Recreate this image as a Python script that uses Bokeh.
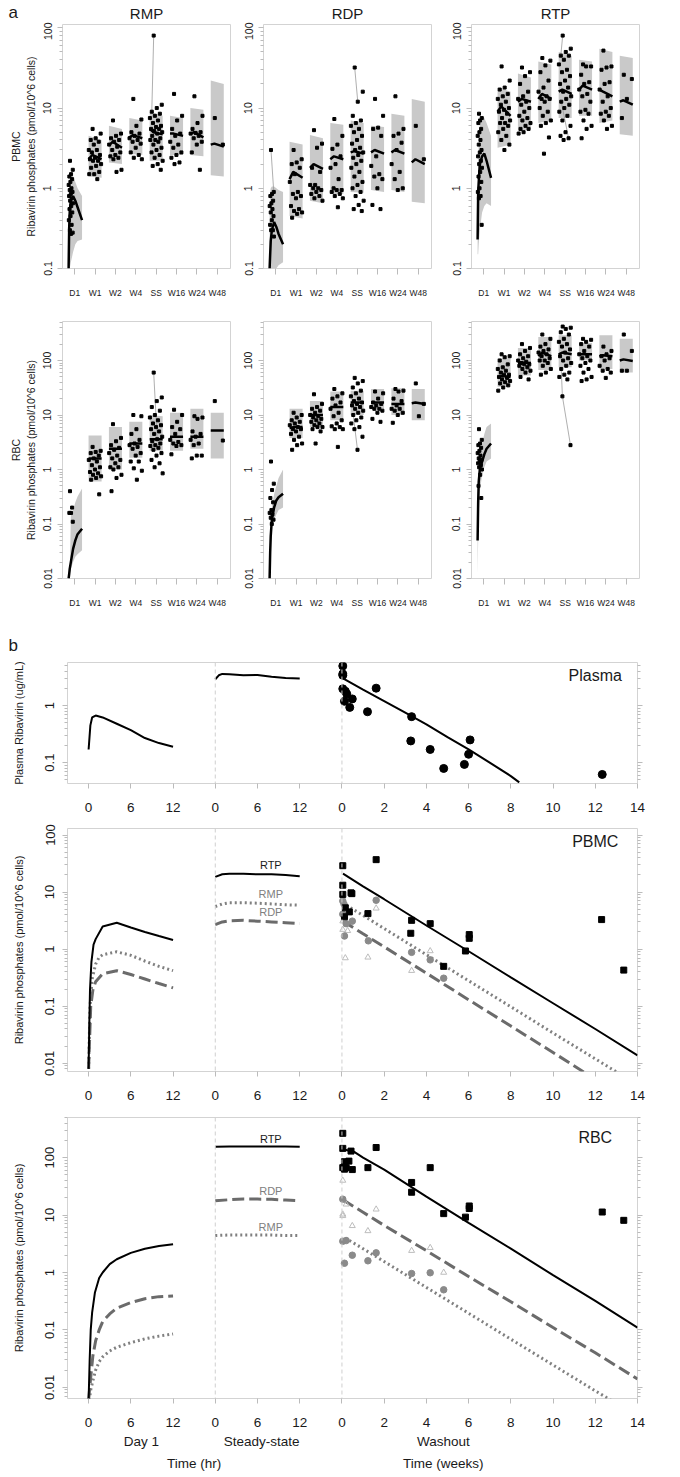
import math
from bokeh.plotting import figure
from bokeh.models import Range1d, FixedTicker, LinearAxis, LogAxis, Label, Span
from bokeh.layouts import column, row
from bokeh.embed import file_html
from bokeh.resources import INLINE
from bokeh.core.properties import value

FONT = "Liberation Sans"
TXT = "#1a1a1a"
BAND = "#c9c9c9"
FRAME = "#d3d3d3"
TICK = "#bbbbbb"

GROUPS = ["D1", "W1", "W2", "W4", "SS", "W16", "W24", "W48"]
SPECIES = ["RMP", "RDP", "RTP"]
D1_HOURS = [0, 0.5, 1, 2, 4, 6, 8, 12]

# ---------------- panel a : PBMC ----------------
RMP_PBMC_D1_MED = [0.1, 0.32, 0.5, 0.7, 0.8, 0.7, 0.58, 0.4]
RMP_PBMC_D1_HI = [0.3, 1.0, 1.4, 1.5, 1.4, 1.2, 1.0, 0.8]
RMP_PBMC_D1_LO = [0.1, 0.1, 0.1, 0.12, 0.16, 0.2, 0.22, 0.23]
RMP_PBMC_TOP = [[4.5, 4.0], [6.0, 5.5], [7.5, 7.0], [9.0, 8.0], [8.0, 7.5], [10, 9.5], [22, 20]]
RMP_PBMC_BOT = [[1.4, 1.35], [2.1, 2.0], [2.7, 2.6], [2.2, 2.2], [2.6, 2.6], [2.6, 2.5], [1.45, 1.4]]
RMP_PBMC_MED = [[2.3, 2.6, 2.3], [3.4, 3.8, 3.2], [4.3, 4.6, 4.2], [5.5, 5.0, 4.7], [4.8, 4.8, 4.5], [4.8, 5.0, 4.3], [3.5, 3.6, 3.3]]
RMP_PBMC_OBS = [
    [2.2, 1.7, 1.5, 1.4, 1.3, 1.2, 1.1, 1.0, 0.95, 0.9, 0.85, 0.8, 0.75, 0.7, 0.65, 0.6, 0.55, 0.5, 0.45, 0.4, 0.35, 0.3, 0.28, 0.27],
    [5.5, 4.8, 4.2, 4.0, 3.8, 3.5, 3.0, 3.0, 2.8, 2.6, 2.4, 2.3, 2.2, 2.2, 2.0, 1.9, 1.8, 1.6, 1.5, 1.5, 1.3],
    [7.0, 4.8, 4.5, 4.2, 4.0, 3.8, 3.5, 3.3, 3.0, 2.8, 2.6, 2.5, 2.4, 2.3, 1.7, 1.6],
    [13, 7.2, 6.0, 5.0, 4.8, 4.5, 4.2, 4.0, 3.8, 3.6, 3.2, 2.8, 2.6, 2.4, 2.3],
    [80, 11, 10, 9, 8.5, 8, 7.5, 7, 6.5, 6, 5.8, 5.5, 5.5, 5.2, 5, 4.8, 4.5, 4.2, 4, 4, 3.8, 3.5, 3.2, 3, 2.8, 2.6, 2.4, 2.2, 2.0, 1.9, 1.7],
    [15, 8, 7, 5.5, 4.8, 4.5, 3.8, 3.5, 3.2, 2.8, 2.6, 2.4, 2.1, 2.0],
    [14, 8, 6.5, 5.5, 5, 4.9, 4.8, 4.5, 4.2, 3.8, 3.5, 2.8, 1.7],
    [7.5, 3.5],
]
RMP_PBMC_LINKS = [(4, 80, 9)]

RDP_PBMC_D1_MED = [0.1, 0.15, 0.22, 0.3, 0.38, 0.33, 0.27, 0.2]
RDP_PBMC_D1_HI = [0.5, 0.9, 1.0, 1.05, 1.05, 1.0, 0.95, 0.9]
RDP_PBMC_D1_LO = [0.1, 0.1, 0.1, 0.1, 0.1, 0.1, 0.11, 0.12]
RDP_PBMC_TOP = [[3.8, 3.5], [4.6, 4.2], [6.5, 6.2], [7.0, 6.5], [6.0, 5.8], [8.5, 8.0], [13, 12]]
RDP_PBMC_BOT = [[0.45, 0.42], [0.7, 0.65], [0.85, 0.85], [0.9, 0.88], [0.95, 0.9], [0.95, 0.9], [0.68, 0.65]]
RDP_PBMC_MED = [[1.3, 1.6, 1.35], [1.8, 2.0, 1.75], [2.3, 2.5, 2.3], [2.8, 2.9, 2.7], [2.8, 3.0, 2.7], [2.8, 3.0, 2.7], [2.1, 2.3, 2.0]]
RDP_PBMC_OBS = [
    [3.0, 0.9, 0.85, 0.8, 0.7, 0.65, 0.6, 0.55, 0.5, 0.45, 0.4, 0.35, 0.3, 0.3, 0.25],
    [3.0, 2.3, 2.1, 2.0, 1.8, 1.5, 1.2, 0.9, 0.85, 0.8, 0.75, 0.6, 0.55, 0.52, 0.5, 0.48, 0.43],
    [5.3, 3.6, 3.2, 1.8, 1.6, 1.1, 1.1, 1.0, 1.0, 0.95, 0.9, 0.85, 0.8, 0.75, 0.7],
    [7.3, 4.5, 3.5, 3.1, 2.5, 2.0, 1.8, 1.3, 1.0, 0.95, 0.95, 0.9, 0.85, 0.8, 0.75, 0.58],
    [32, 16, 12, 8, 7, 6.5, 6, 5.5, 5, 4.5, 4, 3.6, 3.2, 3, 2.8, 2.6, 2.4, 2.2, 2, 1.8, 1.6, 1.4, 1.2, 1.1, 1, 0.9, 0.8, 0.7, 0.62, 0.55, 0.52],
    [13, 8, 5.7, 5.5, 4.5, 2.5, 1.9, 1.5, 1.4, 1.3, 1.0, 0.62, 0.55],
    [14, 5.5, 4.8, 4.5, 3.7, 3.0, 2.0, 1.6, 1.3, 1.0, 0.95],
    [6.0, 2.3],
]
RDP_PBMC_LINKS = [(0, 3.0, 0.9), (4, 32, 12)]

RTP_PBMC_D1_MED = [0.23, 0.9, 1.2, 2.0, 2.5, 2.7, 2.2, 1.35]
RTP_PBMC_D1_HI = [0.3, 2.0, 4.0, 6.0, 8.0, 7.5, 6.5, 4.5]
RTP_PBMC_D1_LO = [0.15, 0.15, 0.2, 0.3, 0.5, 0.6, 0.65, 0.6]
RTP_PBMC_TOP = [[18, 16], [27, 24], [38, 35], [50, 45], [40, 38], [55, 50], [45, 42]]
RTP_PBMC_BOT = [[3.2, 3.5], [5.0, 5.5], [6.5, 7.0], [7.5, 7.5], [8, 8], [6.5, 7.0], [4.7, 4.5]]
RTP_PBMC_MED = [[9, 10.5, 8], [12, 13, 12], [13, 15, 13], [16, 17, 15], [17, 19, 17], [17, 16, 14], [12, 12.5, 11]]
RTP_PBMC_OBS = [
    [8.5, 7.5, 7, 6.5, 5.5, 5, 4.5, 4, 3.5, 3, 2.8, 2.5, 2.2, 2, 1.8, 1.6, 1.4, 1.2, 1, 0.9, 0.8, 0.75, 0.35],
    [33, 22, 18, 17, 15, 14, 13, 12, 11, 10, 9.5, 9, 8.5, 7.5, 7, 6.5, 6.5, 6, 5.5, 5, 4.5, 4, 3.5, 3.0],
    [32, 28, 25, 20, 16, 14, 13, 12, 11, 10, 9, 8, 7.5, 7, 6.5, 6, 5.5, 5.5, 5, 4.8],
    [42, 39, 34, 28, 22, 18, 16, 14, 13, 13, 12, 10, 9, 8, 7, 6.5, 6, 4.3, 2.7],
    [80, 55, 50, 45, 45, 40, 35, 30, 28, 25, 22, 20, 18, 16, 14, 13, 12, 11, 10, 9, 8, 7, 6, 5, 4.5, 4.2, 4],
    [35, 33, 33, 26, 21, 20, 17, 15, 14, 12, 9.5, 9, 8.5, 7, 6, 5.5, 4.2],
    [52, 33, 32, 30, 21, 20, 17, 14, 12, 10, 9, 8.5, 8, 7, 6, 5.5],
    [26, 23, 13, 7.5],
]
RTP_PBMC_LINKS = [(4, 80, 45), (4, 4.2, 12)]

# ---------------- panel a : RBC ----------------
RMP_RBC_D1_MED = [0.01, 0.012, 0.015, 0.02, 0.035, 0.05, 0.065, 0.082]
RMP_RBC_D1_HI = [0.01, 0.01, 0.012, 0.14, 0.18, 0.25, 0.32, 0.45]
RMP_RBC_D1_LO = [0.01, 0.01, 0.012, 0.015, 0.02, 0.025, 0.028, 0.033]
RMP_RBC_TOP = [[4.2, 4.2], [6.0, 6.0], [7.5, 7.5], [10, 9.5], [11, 11], [13, 13], [11, 11]]
RMP_RBC_BOT = [[0.6, 0.6], [1.0, 1.0], [1.65, 1.65], [2.2, 2.2], [2.2, 2.2], [2.4, 2.4], [1.6, 1.6]]
RMP_RBC_MED = [[1.6, 1.6, 1.6], [2.4, 2.4, 2.4], [3.0, 3.0, 3.0], [3.6, 3.6, 3.6], [4.0, 4.0, 4.0], [4.0, 4.0, 4.0], [5.2, 5.2, 5.2]]
RMP_RBC_OBS = [
    [0.4, 0.11, 0.16, 0.16, 0.2],
    [2.6, 2.2, 2.1, 2.0, 1.8, 1.6, 1.5, 1.4, 1.2, 1.1, 1.0, 0.9, 0.85, 0.8, 0.75, 0.7, 0.65, 0.35],
    [6.8, 3.8, 3.3, 2.8, 2.5, 2.3, 2.0, 1.8, 1.6, 1.5, 1.3, 1.1, 1.1, 1.0, 0.8, 0.7, 0.4],
    [10, 9.5, 5.5, 4.5, 3.5, 3.0, 2.8, 2.6, 2.4, 2.0, 1.8, 1.4, 1.4, 1.05, 0.95, 0.65],
    [60, 21, 18, 14, 12, 10, 9, 8, 7, 6.5, 6, 5.5, 5, 4.5, 4, 3.6, 3.3, 3, 2.8, 2.7, 2.5, 2.3, 2.0, 1.8, 1.5, 1.3, 1.1, 0.85],
    [12.5, 10, 7.5, 6, 5.5, 4.5, 3.5, 3.2, 3.0, 2.8, 2.7, 1.9],
    [9.5, 9, 8.5, 5, 4.5, 4, 3.5, 3, 2.8, 1.8, 1.8, 1.6],
    [18, 3.4],
]
RMP_RBC_LINKS = [(4, 60, 3.6)]

RDP_RBC_D1_MED = [0.01, 0.03, 0.06, 0.12, 0.2, 0.27, 0.31, 0.36]
RDP_RBC_D1_HI = [0.01, 0.03, 0.06, 0.2, 0.35, 0.5, 0.7, 1.0]
RDP_RBC_D1_LO = [0.01, 0.03, 0.06, 0.1, 0.12, 0.15, 0.18, 0.2]
RDP_RBC_TOP = [[13, 13], [18, 18], [27, 27], [28, 28], [30, 30], [31, 31], [30, 30]]
RDP_RBC_BOT = [[3.8, 3.8], [6, 6], [8, 8], [10, 10], [13, 13], [10, 10], [8, 8]]
RDP_RBC_MED = [[5.8, 6.0, 6.0], [10, 10, 10], [14, 14, 14], [17, 17, 17], [17, 17, 17], [16, 16, 16], [16.5, 17, 16]]
RDP_RBC_OBS = [
    [1.4, 0.55, 0.42, 0.3, 0.25, 0.18, 0.16, 0.15, 0.13, 0.12, 0.1],
    [11, 10, 9, 8, 7.5, 7, 6.5, 6, 5.5, 5.5, 5, 4.5, 4, 3.5, 3, 2.8, 2.3],
    [24, 16, 14, 13, 12, 11, 10, 9.5, 9, 8.5, 8, 7.5, 7, 6.5, 6, 6, 5.5, 5, 3.0],
    [30, 25, 22, 20, 17, 15, 13, 11, 9.5, 8, 7, 6.2, 6, 5.5, 5.5, 2.6],
    [48, 42, 38, 32, 28, 25, 22, 20, 18, 17, 16, 15, 14, 13, 12, 11, 10, 9, 8, 7, 6, 5.5, 4, 2.3],
    [27, 25, 20, 17, 16, 15, 14, 13, 13, 12, 11, 8.5, 7.5],
    [30, 28, 27, 20, 18, 15, 13, 13, 12, 11, 10, 7.2],
    [38, 16, 9.5],
]
RDP_RBC_LINKS = [(4, 2.3, 10)]

RTP_RBC_D1_MED = [0.05, 0.25, 0.6, 1.0, 1.4, 1.9, 2.4, 3.0]
RTP_RBC_D1_HI = [0.1, 0.5, 1.2, 2.0, 3.0, 4.5, 6.0, 7.0]
RTP_RBC_D1_LO = [0.012, 0.05, 0.15, 0.4, 0.8, 1.1, 1.4, 1.6]
RTP_RBC_TOP = [[110, 110], [170, 170], [270, 270], [290, 290], [210, 210], [290, 290], [250, 250]]
RTP_RBC_BOT = [[33, 33], [53, 53], [67, 67], [75, 75], [100, 100], [70, 70], [60, 60]]
RTP_RBC_MED = [[48, 52, 50], [90, 92, 90], [120, 140, 120], [130, 140, 130], [130, 130, 130], [120, 125, 120], [100, 105, 98]]
RTP_RBC_OBS = [
    [5.5, 3.5, 3, 2.8, 2.5, 2.2, 2.0, 1.8, 1.6, 1.5, 1.4, 1.3, 1.2, 1.1, 1.0, 0.8, 0.5, 0.3],
    [130, 120, 115, 100, 85, 75, 70, 65, 60, 55, 55, 50, 48, 45, 42, 40, 38, 35, 32, 28],
    [200, 170, 150, 130, 120, 110, 100, 95, 90, 85, 85, 80, 75, 70, 65, 60, 50, 45],
    [300, 250, 200, 180, 160, 150, 140, 130, 120, 110, 100, 100, 90, 80, 70, 60, 55],
    [420, 400, 380, 330, 300, 250, 220, 200, 180, 160, 140, 120, 110, 100, 90, 80, 70, 60, 55, 50, 45, 22, 2.8],
    [250, 240, 220, 200, 180, 150, 130, 120, 110, 100, 90, 80, 70, 60, 50, 45, 42],
    [180, 150, 130, 120, 110, 100, 80, 70, 65, 60, 48],
    [300, 150, 65, 65],
]
RTP_RBC_LINKS = [(4, 2.8, 22), (4, 22, 70)]

# ---------------- panel b : plasma ----------------
PLASMA_D1_H = [0, 0.25, 0.5, 1, 2, 4, 6, 8, 10, 12]
PLASMA_D1 = [0.17, 0.45, 0.62, 0.67, 0.62, 0.48, 0.37, 0.27, 0.22, 0.19]
PLASMA_SS_H = [0, 0.5, 1, 2, 4, 6, 8, 10, 12]
PLASMA_SS = [2.9, 3.4, 3.6, 3.55, 3.4, 3.45, 3.2, 3.05, 3.0]
PLASMA_WO_W = [0.05, 1, 2, 3, 4, 5, 6, 7, 8, 8.4]
PLASMA_WO = [3.0, 1.9, 1.2, 0.75, 0.47, 0.28, 0.17, 0.1, 0.058, 0.045]
PLASMA_OBS_W = [0.04, 0.04, 0.04, 0.04, 0.16, 0.23, 0.12, 0.49, 0.37, 1.21, 1.62, 3.3, 3.26, 4.18, 4.82, 6.07, 6.0, 5.8, 12.33]
PLASMA_OBS = [4.95, 3.6, 3.4, 1.97, 1.79, 1.6, 1.19, 1.31, 0.93, 0.78, 2.02, 0.64, 0.24, 0.17, 0.079, 0.25, 0.14, 0.093, 0.062]

# ---------------- panel b : PBMC ----------------
PBMC_RTP_D1_H = [0, 0.1, 0.2, 0.4, 0.7, 1, 2, 4, 6, 8, 10, 12]
PBMC_RTP_D1 = [0.008, 0.05, 0.2, 0.6, 1.2, 1.5, 2.5, 2.9, 2.4, 2.0, 1.7, 1.45]
PBMC_RMP_D1_H = [0, 0.2, 0.5, 1, 1.5, 2, 4, 6, 8, 10, 12]
PBMC_RMP_D1 = [0.008, 0.1, 0.3, 0.55, 0.72, 0.8, 0.9, 0.78, 0.62, 0.5, 0.42]
PBMC_RDP_D1_H = [0, 0.3, 0.6, 1, 2, 4, 6, 8, 10, 12]
PBMC_RDP_D1 = [0.008, 0.1, 0.19, 0.27, 0.37, 0.42, 0.36, 0.3, 0.25, 0.21]
PBMC_SS_H = [0, 1, 2, 4, 6, 8, 10, 12]
PBMC_RTP_SS = [18.5, 20.5, 21, 21, 20.5, 20.5, 20, 19]
PBMC_RMP_SS = [5.6, 6.2, 6.5, 6.5, 6.4, 6.2, 6.0, 5.9]
PBMC_RDP_SS = [2.7, 3.0, 3.15, 3.2, 3.1, 3.0, 2.9, 2.8]
PBMC_RTP_WO_W = [0.05, 1, 2, 4, 6, 8, 10, 12, 14]
PBMC_RTP_WO = [21, 12.6, 7.5, 2.6, 0.92, 0.32, 0.113, 0.04, 0.0138]
PBMC_RMP_WO_W = [0.2, 1, 2, 4, 6, 8, 10, 12, 13]
PBMC_RMP_WO = [5.9, 3.9, 2.3, 0.8, 0.28, 0.098, 0.034, 0.012, 0.0071]
PBMC_RDP_WO_W = [0.05, 1, 2, 4, 6, 8, 10, 11.5, 12]
PBMC_RDP_WO = [3.1, 1.86, 1.1, 0.38, 0.13, 0.045, 0.0155, 0.0069, 0.0054]
PBMC_RTP_OBS_W = [0.04, 1.62, 0.04, 0.04, 0.16, 0.35, 0.43, 0.47, 0.12, 1.23, 3.3, 3.26, 4.18, 4.82, 5.85, 6.03, 6.03, 12.3, 13.35]
PBMC_RTP_OBS = [29, 37, 13.2, 9.1, 5.3, 4.5, 9.7, 9.4, 3.7, 4.2, 3.2, 1.9, 2.8, 0.5, 0.93, 1.55, 1.8, 3.3, 0.43]
PBMC_RMP_OBS_W = [0.04, 0.04, 0.1, 0.2, 0.49, 1.62, 1.25, 3.3, 4.18, 4.82, 0.12]
PBMC_RMP_OBS = [7.0, 4.1, 6.1, 2.8, 3.1, 7.2, 1.4, 0.88, 0.65, 0.31, 1.7]
PBMC_RDP_OBS_W = [0.16, 1.23, 1.62, 3.3, 4.18, 0.04, 0.04, 0.27]
PBMC_RDP_OBS = [0.7, 0.72, 5.2, 0.42, 0.93, 2.2, 3.1, 2.1]

# ---------------- panel b : RBC ----------------
RBC_RTP_D1_H = [0, 0.15, 0.3, 0.5, 0.9, 1.5, 2, 3, 4, 6, 8, 10, 12]
RBC_RTP_D1 = [0.006, 0.03, 0.1, 0.2, 0.45, 0.8, 1.0, 1.4, 1.7, 2.2, 2.6, 2.9, 3.1]
RBC_RDP_D1_H = [0, 0.3, 0.6, 1, 1.5, 2, 3, 4, 6, 8, 10, 12]
RBC_RDP_D1 = [0.006, 0.015, 0.035, 0.065, 0.1, 0.14, 0.19, 0.24, 0.3, 0.35, 0.38, 0.39]
RBC_RMP_D1_H = [0.1, 0.3, 0.6, 1, 1.5, 2, 3, 4, 6, 8, 10, 12]
RBC_RMP_D1 = [0.006, 0.009, 0.013, 0.02, 0.028, 0.034, 0.043, 0.05, 0.06, 0.07, 0.078, 0.085]
RBC_SS_H = [0, 2, 4, 6, 8, 10, 12]
RBC_RTP_SS = [155, 156, 157, 157, 156, 156, 155]
RBC_RDP_SS = [17.8, 18.5, 19, 19, 18.8, 18.3, 17.8]
RBC_RMP_SS = [4.4, 4.5, 4.5, 4.5, 4.5, 4.4, 4.4]
RBC_RTP_WO_W = [0.05, 0.6, 1, 2, 4, 6, 8, 10, 12, 14]
RBC_RTP_WO = [140, 125, 100, 62, 21, 7.3, 2.6, 0.9, 0.32, 0.11]
RBC_RDP_WO_W = [0.05, 1, 2, 4, 6, 8, 10, 12, 14]
RBC_RDP_WO = [18.4, 11.2, 6.6, 2.4, 0.85, 0.31, 0.11, 0.04, 0.014]
RBC_RMP_WO_W = [0.15, 1, 2, 4, 6, 8, 10, 12, 12.8]
RBC_RMP_WO = [4.0, 2.6, 1.55, 0.55, 0.195, 0.069, 0.0245, 0.0087, 0.0058]
RBC_RTP_OBS_W = [0.04, 0.04, 0.12, 0.33, 0.04, 0.12, 0.2, 0.49, 0.43, 1.23, 1.62, 3.3, 3.3, 4.18, 4.82, 5.85, 6.03, 6.03, 12.33, 13.35]
RBC_RTP_OBS = [265, 145, 85, 87, 67, 63, 67, 62, 130, 67, 150, 37, 25, 67, 10.6, 9.2, 14.4, 13, 11.3, 8.1]
RBC_RDP_OBS_W = [0.04, 0.04, 0.04, 0.2, 0.49, 1.62, 1.23, 3.3, 4.18, 4.82]
RBC_RDP_OBS = [40, 9.7, 10.3, 15.4, 6.5, 12.6, 5.3, 2.4, 2.7, 1.0]
RBC_RMP_OBS_W = [0.04, 0.04, 0.2, 0.12, 0.49, 1.23, 1.62, 3.3, 4.18, 4.82]
RBC_RMP_OBS = [18.9, 3.5, 3.6, 1.45, 2.0, 1.6, 2.2, 0.96, 0.99, 0.5]


# ================= helpers =================
def golden(i):
    return (0.31 + i * 0.6180339887) % 1.0


def d1_pos(h):
    return 0.7 + h * 0.055


def log_ticks(e0, e1):
    major = [float("1e%d" % k) for k in range(e0, e1 + 1)]
    minor = [m * float("1e%d" % k) for k in range(e0 - 1, e1 + 2) for m in range(2, 10)]
    return major, minor


def base_fig(width, height, xr, yr, lb, rb, tb, bb):
    p = figure(width=width, height=height, x_range=Range1d(*xr), y_range=Range1d(*yr),
               y_axis_type="log", output_backend="svg", toolbar_location=None, title=None,
               min_border_left=lb, min_border_right=rb, min_border_top=tb, min_border_bottom=bb)
    p.grid.visible = False
    p.outline_line_color = FRAME
    p.outline_line_width = 1
    p.background_fill_color = "white"
    p.border_fill_color = "white"
    return p


def header(width, height, xs, ys, texts, sizes, aligns):
    """A thin strip whose frame fills the whole canvas; used for panel titles and letters."""
    p = figure(width=width, height=height, x_range=Range1d(0, width), y_range=Range1d(height, 0),
               output_backend="svg", toolbar_location=None, title=None,
               x_axis_location=None, y_axis_location=None,
               min_border_left=0, min_border_right=0, min_border_top=0, min_border_bottom=0)
    p.grid.visible = False
    p.outline_line_color = None
    p.background_fill_color = "white"
    p.border_fill_color = "white"
    for x, y, t, s, a in zip(xs, ys, texts, sizes, aligns):
        p.text(x=[x], y=[y], text=[t], text_font=value(FONT), text_font_size=value(s),
               text_align=a, text_baseline="middle", text_color=TXT)
    return p


def style_log_axis(ax, e0, e1, size, standoff, labels=True):
    major, minor = log_ticks(e0, e1)
    ax.ticker = FixedTicker(ticks=major, minor_ticks=minor)
    if labels:
        ax.major_label_overrides = {t: ("%g" % t) for t in major}
    ax.major_label_orientation = "vertical"
    ax.axis_line_color = None
    ax.major_tick_line_color = TICK
    ax.major_tick_in = 0
    ax.major_tick_out = 5
    ax.minor_tick_line_color = TICK
    ax.minor_tick_in = 0
    ax.minor_tick_out = 3
    ax.major_label_standoff = standoff
    ax.major_label_text_font = FONT
    ax.major_label_text_font_size = size
    ax.major_label_text_color = TXT


A_XR = (0.4, 8.65)


def panel_a(width, height, lb, rb, tb, bb, yr, e0, e1, d1_med, d1_hi, d1_lo,
            top, bot, med, obs, links, ylabel=None):
    p = base_fig(width, height, A_XR, yr, lb, rb, tb, bb)
    xa = p.xaxis[0]
    xa.ticker = FixedTicker(ticks=list(range(1, 9)))
    xa.major_label_overrides = {i + 1: g for i, g in enumerate(GROUPS)}
    xa.axis_line_color = None
    xa.major_tick_line_color = TICK
    xa.major_tick_in = 0
    xa.major_tick_out = 6
    xa.minor_tick_line_color = None
    xa.major_label_standoff = 13
    xa.major_label_text_font = FONT
    xa.major_label_text_font_size = "8.5px"
    xa.major_label_text_color = TXT
    ya = p.yaxis[0]
    style_log_axis(ya, e0, e1, "10.5px", 6)
    if ylabel:
        ya.axis_label = ylabel
        ya.axis_label_text_font = FONT
        ya.axis_label_text_font_size = "10.5px"
        ya.axis_label_text_font_style = "normal"
        ya.axis_label_text_color = TXT
        ya.axis_label_standoff = 4

    # Day-1 prediction band + median
    xs = [d1_pos(h) for h in D1_HOURS]
    p.patch(xs + xs[::-1], list(d1_hi) + list(d1_lo)[::-1], fill_color=BAND, line_color=None)
    # weekly bands
    bx, by, mx, my = [], [], [], []
    for g in range(7):
        c = g + 2
        bx.append([c - 0.32, c + 0.32, c + 0.32, c - 0.32])
        by.append([top[g][0], top[g][1], bot[g][1], bot[g][0]])
        mx.append([c - 0.32, c - 0.14, c + 0.32])
        my.append(list(med[g]))
    p.patches(bx, by, fill_color=BAND, line_color=None)

    # observed points
    pos = []
    for g, vals in enumerate(obs):
        gp = []
        for i, v in enumerate(vals):
            if g == 0:
                gp.append(d1_pos(golden(i) * 4.0))
            else:
                gp.append(g + 1 + golden(i) * 0.64 - 0.32)
        pos.append(gp)
    # subject links
    lx, ly = [], []
    for g, v1, v2 in links:
        i1 = obs[g].index(v1)
        i2 = obs[g].index(v2)
        lx.append([pos[g][i1], pos[g][i2]])
        ly.append([v1, v2])
    if lx:
        p.multi_line(lx, ly, line_color="#9a9a9a", line_width=0.8)
    px_, py_ = [], []
    for g, vals in enumerate(obs):
        px_ += pos[g]
        py_ += list(vals)
    p.scatter(px_, py_, marker="square", size=3, color="black")

    p.line(xs, list(d1_med), line_color="black", line_width=2.5)
    p.multi_line(mx, my, line_color="black", line_width=2.5)
    return p


B_XR = (-13, 14)
B_TICKS = [-12, -10, -8, -6, -4, -2, 0, 2, 4, 6, 8, 10, 12, 14]
B_OVR = {-12: "0", -10: "6", -8: "12", -6: "0", -4: "6", -2: "12"}

STY = {
    "RTP": dict(line_color="black", line_width=2),
    "RMP": dict(line_color="#808080", line_width=3, line_dash="2 3"),
    "RDP": dict(line_color="#6b6b6b", line_width=3, line_dash="12 5"),
}


def xd1(hs):
    return [-12 + h / 3.0 for h in hs]


def xss(hs):
    return [-6 + h / 3.0 for h in hs]


def panel_b(height, tb, bb, yr, e0, e1, ylabel):
    p = base_fig(667, height, B_XR, yr, 67, 30, tb, bb)
    xa = p.xaxis[0]
    xa.ticker = FixedTicker(ticks=B_TICKS)
    xa.major_label_overrides = dict(B_OVR)
    xa.axis_line_color = None
    xa.major_tick_line_color = TICK
    xa.major_tick_in = 0
    xa.major_tick_out = 5
    xa.minor_tick_line_color = None
    xa.major_label_standoff = 14
    xa.major_label_text_font = FONT
    xa.major_label_text_font_size = "13.5px"
    xa.major_label_text_color = TXT
    ya = p.yaxis[0]
    style_log_axis(ya, e0, e1, "13px", 8)
    ya.axis_label = ylabel
    ya.axis_label_text_font = FONT
    ya.axis_label_text_font_size = "11px"
    ya.axis_label_text_font_style = "normal"
    ya.axis_label_text_color = TXT
    ya.axis_label_standoff = 18
    ra = LogAxis()
    style_log_axis(ra, e0, e1, "0px", 0, labels=False)
    ra.major_label_text_alpha = 0
    p.add_layout(ra, "right")
    for loc in (-6, 0):
        p.add_layout(Span(location=loc, dimension="height", line_color="#cfcfcf",
                          line_dash="4 3", line_width=1))
    return p


def add_text(p, x, y, text, size, color=TXT, align="center"):
    p.add_layout(Label(x=x, y=y, text=text, text_align=align, text_baseline="middle",
                       text_font=FONT, text_font_size=size, text_color=color))


# ================= panel a =================
head_a = header(669, 22, [8, 146, 347, 555], [12, 13, 13, 13], ["a"] + SPECIES,
                ["17px", "15px", "15px", "15px"], ["left", "center", "center", "center"])
a1 = panel_a(232, 281, 62, 2, 2, 35, (0.1, 110), -1, 2, RMP_PBMC_D1_MED, RMP_PBMC_D1_HI, RMP_PBMC_D1_LO,
             RMP_PBMC_TOP, RMP_PBMC_BOT, RMP_PBMC_MED, RMP_PBMC_OBS, RMP_PBMC_LINKS,
             ylabel="PBMC\nRibavirin phosphates (pmol/10^6 cells)")
a2 = panel_a(201, 281, 31, 2, 2, 35, (0.1, 110), -1, 2, RDP_PBMC_D1_MED, RDP_PBMC_D1_HI, RDP_PBMC_D1_LO,
             RDP_PBMC_TOP, RDP_PBMC_BOT, RDP_PBMC_MED, RDP_PBMC_OBS, RDP_PBMC_LINKS)
a3 = panel_a(236, 281, 38, 30, 2, 35, (0.1, 110), -1, 2, RTP_PBMC_D1_MED, RTP_PBMC_D1_HI, RTP_PBMC_D1_LO,
             RTP_PBMC_TOP, RTP_PBMC_BOT, RTP_PBMC_MED, RTP_PBMC_OBS, RTP_PBMC_LINKS)
a4 = panel_a(232, 307, 62, 2, 18, 32, (0.01, 520), -2, 2, RMP_RBC_D1_MED, RMP_RBC_D1_HI, RMP_RBC_D1_LO,
             RMP_RBC_TOP, RMP_RBC_BOT, RMP_RBC_MED, RMP_RBC_OBS, RMP_RBC_LINKS,
             ylabel="RBC\nRibavirin phosphates (pmol/10^6 cells)")
a5 = panel_a(201, 307, 31, 2, 18, 32, (0.01, 520), -2, 2, RDP_RBC_D1_MED, RDP_RBC_D1_HI, RDP_RBC_D1_LO,
             RDP_RBC_TOP, RDP_RBC_BOT, RDP_RBC_MED, RDP_RBC_OBS, RDP_RBC_LINKS)
a6 = panel_a(236, 307, 38, 30, 18, 32, (0.01, 520), -2, 2, RTP_RBC_D1_MED, RTP_RBC_D1_HI, RTP_RBC_D1_LO,
             RTP_RBC_TOP, RTP_RBC_BOT, RTP_RBC_MED, RTP_RBC_OBS, RTP_RBC_LINKS)

# ================= panel b : plasma =================
head_b = header(669, 44, [8], [35], ["b"], ["17px"], ["left"])
PL_YR = (0.043, 5.7)
b1 = panel_b(169, 8, 40, PL_YR, -1, 0, "Plasma Ribavirin (ug/mL)")
b1.line(xd1(PLASMA_D1_H), PLASMA_D1, **STY["RTP"])
b1.line(xss(PLASMA_SS_H), PLASMA_SS, **STY["RTP"])
b1.line(PLASMA_WO_W, PLASMA_WO, **STY["RTP"])
b1.scatter(PLASMA_OBS_W, PLASMA_OBS, marker="circle", size=8, color="black")
add_text(b1, 12, 3.4, "Plasma", "16px")

# ================= panel b : PBMC =================
b2 = panel_b(288, 5, 40, (0.0072, 130), -2, 2, "Ribavirin phosphates (pmol/10^6 cells)")
b2.line(xd1(PBMC_RMP_D1_H), PBMC_RMP_D1, **STY["RMP"])
b2.line(xd1(PBMC_RDP_D1_H), PBMC_RDP_D1, **STY["RDP"])
b2.line(xd1(PBMC_RTP_D1_H), PBMC_RTP_D1, **STY["RTP"])
b2.line(xss(PBMC_SS_H), PBMC_RMP_SS, **STY["RMP"])
b2.line(xss(PBMC_SS_H), PBMC_RDP_SS, **STY["RDP"])
b2.line(xss(PBMC_SS_H), PBMC_RTP_SS, **STY["RTP"])
b2.line(PBMC_RMP_WO_W, PBMC_RMP_WO, **STY["RMP"])
b2.line(PBMC_RDP_WO_W, PBMC_RDP_WO, **STY["RDP"])
b2.line(PBMC_RTP_WO_W, PBMC_RTP_WO, **STY["RTP"])
b2.scatter(PBMC_RDP_OBS_W, PBMC_RDP_OBS, marker="triangle", size=6, fill_color=None,
           line_color="#bdbdbd", line_width=1)
b2.scatter(PBMC_RMP_OBS_W, PBMC_RMP_OBS, marker="circle", size=6.5, color="#8a8a8a")
b2.scatter(PBMC_RTP_OBS_W, PBMC_RTP_OBS, marker="square", size=6, color="black")
add_text(b2, -3.37, 29.6, "RTP", "11px")
add_text(b2, -3.37, 9.4, "RMP", "11px", color="#808080")
add_text(b2, -3.37, 4.5, "RDP", "11px", color="#808080")
add_text(b2, 12, 78, "PBMC", "16px")

# ================= panel b : RBC =================
b3 = panel_b(363, 6, 76, (0.0064, 500), -2, 2, "Ribavirin phosphates (pmol/10^6 cells)")
b3.line(xd1(RBC_RMP_D1_H), RBC_RMP_D1, **STY["RMP"])
b3.line(xd1(RBC_RDP_D1_H), RBC_RDP_D1, **STY["RDP"])
b3.line(xd1(RBC_RTP_D1_H), RBC_RTP_D1, **STY["RTP"])
b3.line(xss(RBC_SS_H), RBC_RMP_SS, **STY["RMP"])
b3.line(xss(RBC_SS_H), RBC_RDP_SS, **STY["RDP"])
b3.line(xss(RBC_SS_H), RBC_RTP_SS, **STY["RTP"])
b3.line(RBC_RMP_WO_W, RBC_RMP_WO, **STY["RMP"])
b3.line(RBC_RDP_WO_W, RBC_RDP_WO, **STY["RDP"])
b3.line(RBC_RTP_WO_W, RBC_RTP_WO, **STY["RTP"])
b3.scatter(RBC_RDP_OBS_W, RBC_RDP_OBS, marker="triangle", size=6, fill_color=None,
           line_color="#bdbdbd", line_width=1)
b3.scatter(RBC_RMP_OBS_W, RBC_RMP_OBS, marker="circle", size=6.5, color="#8a8a8a")
b3.scatter(RBC_RTP_OBS_W, RBC_RTP_OBS, marker="square", size=6, color="black")
add_text(b3, -3.37, 208, "RTP", "11px")
add_text(b3, -3.37, 26, "RDP", "11px", color="#808080")
add_text(b3, -3.37, 6.1, "RMP", "11px", color="#808080")
add_text(b3, 12, 222, "RBC", "16px")

for ticks, labels in (([-9.5, -3.8, 4.8], ["Day 1", "Steady-state", "Washout"]),
                      ([-7, 4.8], ["Time (hr)", "Time (weeks)"])):
    ax = LinearAxis(ticker=FixedTicker(ticks=ticks),
                    major_label_overrides={t: s for t, s in zip(ticks, labels)})
    ax.axis_line_color = None
    ax.major_tick_line_color = None
    ax.minor_tick_line_color = None
    ax.major_tick_out = 0
    ax.major_tick_in = 0
    ax.major_label_standoff = 4
    ax.major_label_text_font = FONT
    ax.major_label_text_font_size = "13.5px"
    ax.major_label_text_color = TXT
    b3.add_layout(ax, "below")

layout = column(row(head_a), row(a1, a2, a3), row(a4, a5, a6), row(head_b),
                row(b1), row(b2), row(b3))
open("out.html", "w").write(file_html(layout, INLINE))
